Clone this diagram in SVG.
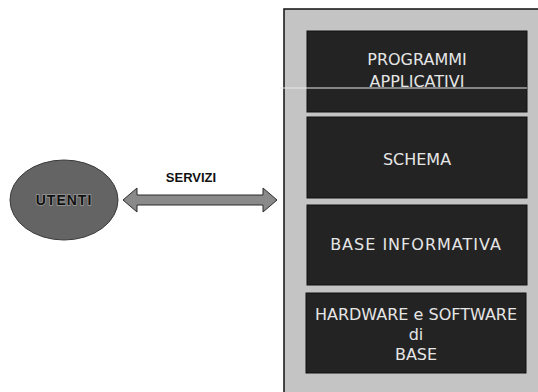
<svg xmlns="http://www.w3.org/2000/svg" width="538" height="392" viewBox="0 0 538 392">
  <style>
    .layer { fill: #232323; stroke: #111; stroke-width: 1; }
    .layer-label { font-family: "DejaVu Sans", "Liberation Sans", sans-serif; font-size: 16px; fill: #e6e6e6; text-anchor: middle; }
    .stack { fill: #c4c4c4; stroke: #111; stroke-width: 1.5; }
  </style>
  <rect width="538" height="392" fill="#ffffff"/>

  <!-- user node -->
  <g id="utenti">
    <ellipse cx="64" cy="200" rx="54" ry="40" fill="#646464" stroke="#3a3a3a" stroke-width="1"/>
    <text x="64" y="205" font-family="Liberation Sans, sans-serif" font-size="14" font-weight="bold" letter-spacing="1" fill="#111" stroke="#9a9a9a" stroke-width="1.5" paint-order="stroke" text-anchor="middle">UTENTI</text>
  </g>

  <!-- services connector -->
  <g id="connectors">
    <polygon points="123,200 137,188 137,195 263,195 263,188 277,200 263,212 263,205 137,205 137,212" fill="#8a8a8a" stroke="#2a2a2a" stroke-width="1"/>
    <text x="191" y="182" font-family="Liberation Sans, sans-serif" font-size="13" font-weight="bold" fill="#111" text-anchor="middle">SERVIZI</text>
  </g>

  <!-- system stack -->
  <g id="sistema">
    <rect class="stack" x="284" y="9" width="262" height="392"/>
  </g>

  <g id="programmi">
    <rect class="layer" x="307" y="31" width="220" height="81"/>
    <text class="layer-label" x="417" y="65">PROGRAMMI</text>
    <text class="layer-label" x="417" y="87">APPLICATIVI</text>
  </g>

  <g id="schema">
    <rect class="layer" x="307" y="117" width="220" height="81"/>
    <text class="layer-label" x="417" y="165">SCHEMA</text>
  </g>

  <g id="base-informativa">
    <rect class="layer" x="307" y="205" width="220" height="80"/>
    <text class="layer-label" x="416" y="250" letter-spacing="1">BASE INFORMATIVA</text>
  </g>

  <g id="hardware-software">
    <rect class="layer" x="306" y="293" width="220" height="80"/>
    <text class="layer-label" x="416" y="320">HARDWARE e SOFTWARE</text>
    <text class="layer-label" x="416" y="340">di</text>
    <text class="layer-label" x="416" y="360">BASE</text>
  </g>

  <!-- light rule across the top layer -->
  <line x1="280" y1="88" x2="527" y2="88" stroke="#e8e8e8" stroke-width="1"/>
</svg>
